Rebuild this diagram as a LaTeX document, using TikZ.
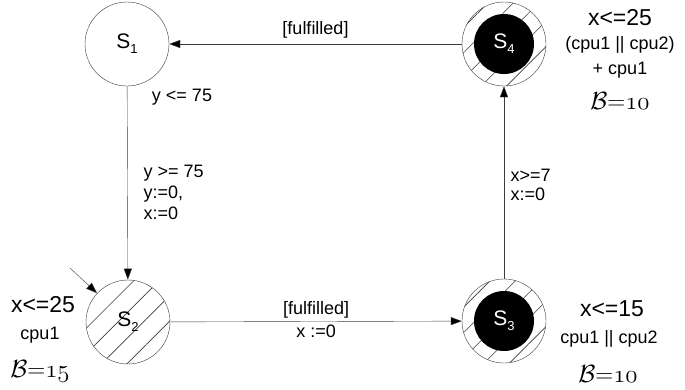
\documentclass[tikz,border=0pt]{standalone}
\usepackage{fontspec}
\setmainfont{Liberation Sans}
\usetikzlibrary{arrows.meta, patterns.meta}

\definecolor{edgeGray}{HTML}{3C3C3C}

\begin{document}
\begin{tikzpicture}[x=1pt, y=-1pt,
  every node/.style={font=\fontsize{18}{20}\selectfont, align=center},
  state/.style={circle, draw=edgeGray, thin, minimum size=84pt, inner sep=0pt,
                font=\fontsize{21}{23}\selectfont},
  hatched/.style={state, pattern={Lines[angle=45, distance=18pt, line width=0.6pt]},
                  pattern color=edgeGray},
  core/.style={circle, fill=black, minimum size=60pt, inner sep=0pt,
               text=white, font=\fontsize{21}{23}\selectfont},
  bound/.style={font=\fontsize{23}{25}\selectfont},
  budget/.style={font=\fontsize{23}{25}\selectfont},
  trans/.style={-{Triangle[length=11pt, width=8pt, fill=black]}, draw=edgeGray, thin}
]
  \useasboundingbox (0,0) rectangle (685,389);

  % locations
  \node[state]   (s1)  at (127,44)  {S\raisebox{-0.45ex}{\fontsize{13}{13}\selectfont 1}};
  \node[hatched] (s2)  at (128,322) {S\raisebox{-0.45ex}{\fontsize{13}{13}\selectfont 2}};
  \node[hatched] (s3)  at (504,321) {};
  \node[core]    (s3c) at (s3)      {S\raisebox{-0.45ex}{\fontsize{13}{13}\selectfont 3}};
  \node[hatched] (s4)  at (504,44)  {};
  \node[core]    (s4c) at (s4)      {S\raisebox{-0.45ex}{\fontsize{13}{13}\selectfont 4}};
  \coordinate (init) at (70,268);

  % invariants and budgets
  \node[bound]  (inv2) at (43,305)  {x<=25};
  \node         (cpu2) at (40,335)  {cpu1};
  \node[budget] (b2)   at (40,371)  {$\mathcal{B}{=}\mathnormal{15}$};
  \node[bound]  (inv3) at (612,309) {x<=15};
  \node         (cpu3) at (609,339) {cpu1 || cpu2};
  \node[budget] (b3)   at (608,374) {$\mathcal{B}{=}\mathnormal{10}$};
  \node[bound]  (inv4) at (620,18)  {x<=25};
  \node         (cpu4) at (620,45)  {(cpu1 || cpu2)};
  \node         (add4) at (620,70)  {+ cpu1};
  \node[budget] (b4)   at (620,101) {$\mathcal{B}{=}\mathnormal{10}$};

  % transitions
  \draw[trans] (init) -- (s2);
  \draw[trans] (s4) -- node[above=2pt] {[fulfilled]} (s1);
  \draw[trans] (s1) -- (s2);
  \draw[trans] (s2) -- node[above=0pt] {[fulfilled]} node[below=0pt] {x :=0} (s3);
  \draw[trans] (s3) -- (s4);

  \node (g1) at (182,97) {y <= 75};
  \node[align=left, anchor=north west, font=\fontsize{18}{21}\selectfont] (g2) at (140,162)
    {y >= 75\\y:=0,\\x:=0};
  \node[align=left, anchor=north west, font=\fontsize{18}{19}\selectfont] (g3) at (507,166)
    {x>=7\\x:=0};
\end{tikzpicture}
\end{document}
